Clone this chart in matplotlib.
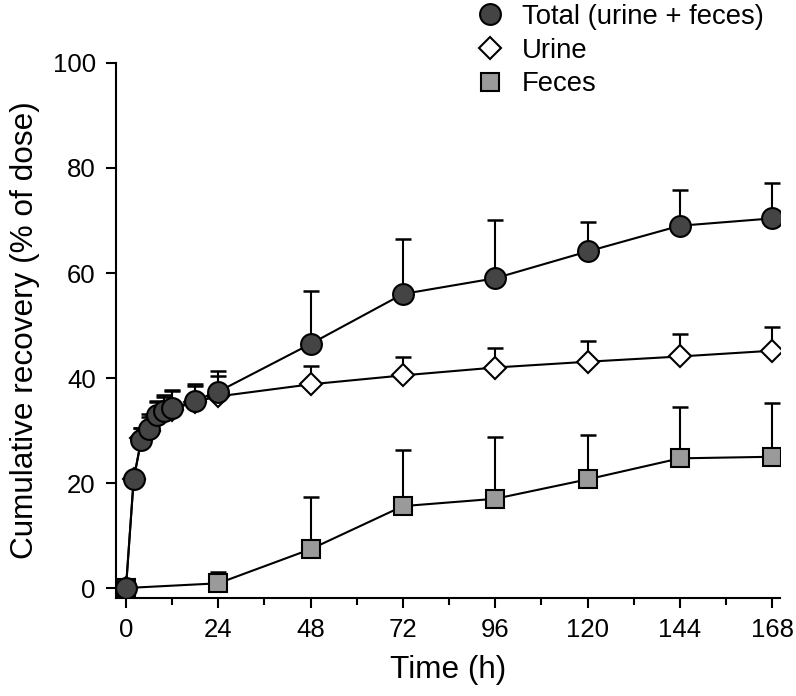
import matplotlib.pyplot as plt
import numpy as np

plt.rcParams['font.family'] = ['Liberation Sans', 'DejaVu Sans']

# time points (h)
t_total = [0, 2, 4, 6, 8, 10, 12, 18, 24, 48, 72, 96, 120, 144, 168]
t_feces = [0, 24, 48, 72, 96, 120, 144, 168]

# mean cumulative recovery (% of dose) and upper SD
total = [0, 20.7, 28.2, 30.2, 33.0, 33.8, 34.2, 35.7, 37.4, 46.5, 56.0, 59.0, 64.1, 69.0, 70.4]
total_sd = [0, 0.5, 2.2, 2.9, 2.7, 3.0, 3.6, 3.2, 3.9, 10.0, 10.5, 11.0, 5.6, 6.8, 6.7]

urine = [0, 20.7, 28.5, 30.0, 32.8, 33.5, 34.0, 35.5, 36.5, 38.8, 40.5, 42.0, 43.1, 44.1, 45.2]
urine_sd = [0, 0.5, 2.0, 2.5, 2.7, 2.8, 3.5, 3.0, 3.9, 3.5, 3.5, 3.7, 3.9, 4.3, 4.6]

feces = [0, 0.9, 7.4, 15.6, 17.0, 20.7, 24.7, 25.0]
feces_sd = [0, 2.2, 9.9, 10.6, 11.8, 8.4, 9.8, 10.3]

fig = plt.figure(figsize=(7.96, 6.96), dpi=100)
ax = fig.add_axes([0.1457, 0.1408, 0.834, 0.7687])

def draw(t, y, sd, marker, fc, ms, label, z):
    ax.errorbar(t, y, yerr=[np.zeros(len(sd)), sd], fmt='none', ecolor='black',
                elinewidth=1.5, capsize=6, capthick=1.8, zorder=z)
    ax.plot(t, y, color='black', lw=1.5, zorder=z)
    ax.plot(t, y, ls='none', marker=marker, mfc=fc, mec='black', mew=1.5,
            ms=ms, zorder=z + 0.5, label=label)

draw(t_feces, feces, feces_sd, 's', '#9a9a9a', 13, 'Feces', 2)
draw(t_total, urine, urine_sd, 'D', 'white', 11, 'Urine', 3)
draw(t_total, total, total_sd, 'o', '#444444', 15, 'Total (urine + feces)', 4)

ax.set_xlim(-2.6, 170)
ax.set_ylim(-1.9, 100)
ax.spines['top'].set_visible(False)
ax.spines['right'].set_visible(False)
ax.spines['left'].set_linewidth(1.5)
ax.spines['bottom'].set_linewidth(1.5)
ax.set_xticks(np.arange(0, 169, 24))
ax.set_xticks(np.arange(12, 169, 24), minor=True)
ax.set_yticks(np.arange(0, 101, 20))
ax.tick_params(which='major', direction='out', length=7.5, width=1.5, labelsize=18.5, pad=7)
ax.tick_params(axis='x', which='major', pad=7)
ax.tick_params(which='minor', direction='out', length=5, width=1.5)
ax.set_xlabel('Time (h)', fontsize=22.7, labelpad=9)
ax.set_ylabel('Cumulative recovery (% of dose)', fontsize=22.7, labelpad=9)

h, l = ax.get_legend_handles_labels()
order = [2, 1, 0]
ax.legend([h[i] for i in order], [l[i] for i in order], loc='upper left',
          bbox_to_anchor=(0.578, 1.022), bbox_transform=fig.transFigure,
          frameon=False, fontsize=19.8, handlelength=0.8, handletextpad=0.75,
          labelspacing=0.28, borderpad=0.2, markerscale=1.0)

fig.savefig('out.png', dpi=100)
